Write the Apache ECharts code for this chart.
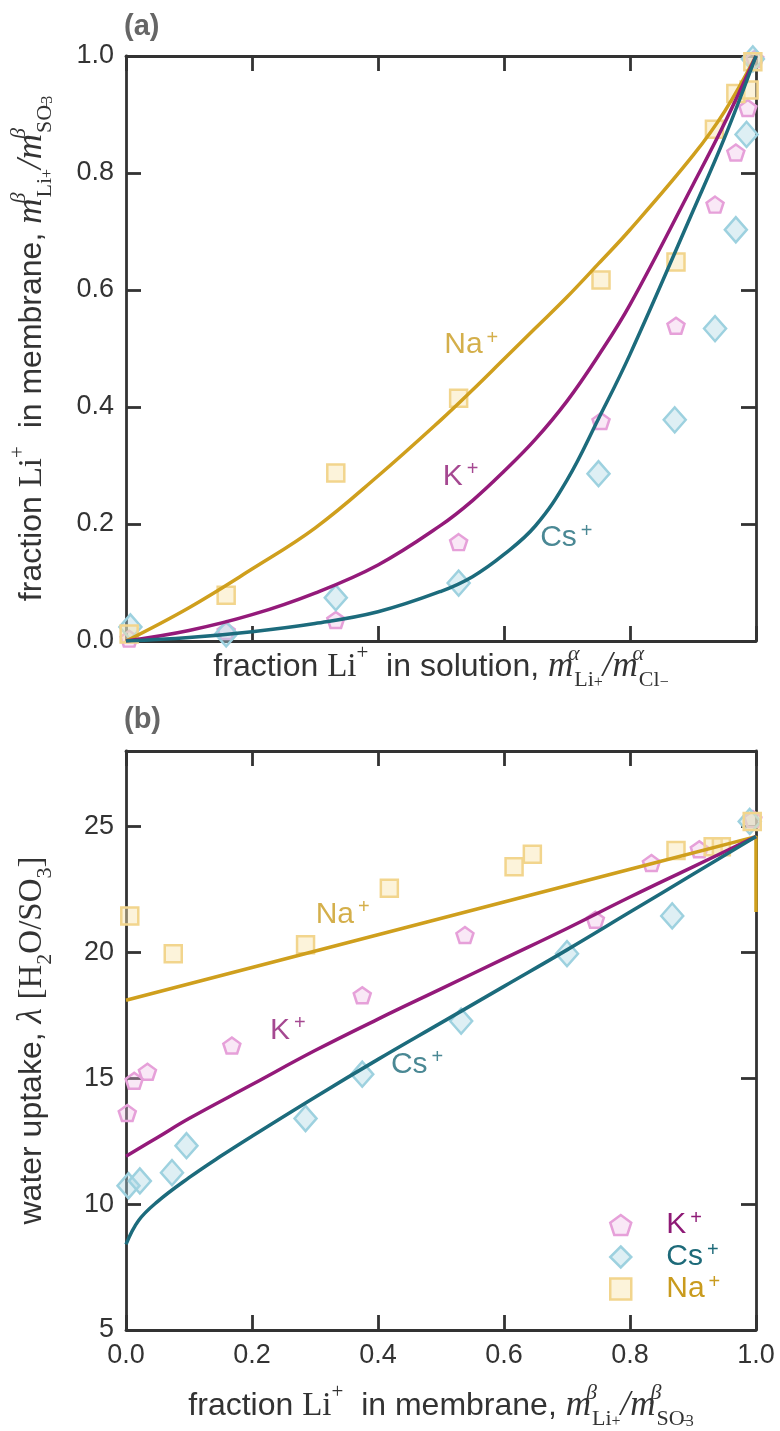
<!DOCTYPE html>
<html>
<head>
<meta charset="utf-8">
<script src="https://cdn.jsdelivr.net/npm/echarts@6/dist/echarts.min.js"></script>
<style>
html,body{margin:0;padding:0;background:#ffffff;}
#c{width:780px;height:1431px;}
</style>
</head>
<body>
<div id="c"></div>
<script>
// ================= DATA =================
// Panel (a): fraction Li+ in solution (x) vs fraction Li+ in membrane (y)
const naSolA = [0.005, 0.159, 0.333, 0.528, 0.754, 0.873, 0.934, 0.968, 0.989, 0.995];
const naMemA = [0.012, 0.078, 0.287, 0.415, 0.617, 0.648, 0.875, 0.936, 0.942, 0.990];
const kSolA  = [0.005, 0.159, 0.333, 0.528, 0.754, 0.873, 0.935, 0.968, 0.987, 0.998];
const kMemA  = [0.004, 0.017, 0.036, 0.169, 0.376, 0.539, 0.746, 0.835, 0.911, 0.995];
const csSolA = [0.007, 0.159, 0.333, 0.528, 0.750, 0.871, 0.935, 0.968, 0.985, 0.995];
const csMemA = [0.024, 0.012, 0.074, 0.099, 0.286, 0.378, 0.534, 0.703, 0.866, 0.995];
// model curves, panel (a)
const curveXA  = [0, 0.1, 0.2, 0.3, 0.4, 0.5, 0.55, 0.6, 0.65, 0.7, 0.75, 0.8, 0.9, 0.95, 1.0];
const naCurveA = [0, 0.057, 0.123, 0.193, 0.282, 0.378, 0.429, 0.482, 0.535, 0.588, 0.645, 0.703, 0.830, 0.905, 1.0];
const kCurveA  = [0, 0.018, 0.045, 0.082, 0.130, 0.198, 0.240, 0.290, 0.345, 0.410, 0.488, 0.575, 0.780, 0.885, 1.0];
const csCurveA = [0, 0.006, 0.016, 0.030, 0.050, 0.085, 0.110, 0.148, 0.197, 0.275, 0.380, 0.490, 0.735, 0.860, 1.0];

// Panel (b): fraction Li+ in membrane (x) vs water uptake lambda (y)
const naMemB = [0.006, 0.075, 0.285, 0.418, 0.616, 0.645, 0.873, 0.932, 0.945, 0.994];
const naLamB = [21.45, 19.95, 20.30, 22.55, 23.40, 23.90, 24.05, 24.20, 24.20, 25.20];
const kMemB  = [0.002, 0.013, 0.034, 0.168, 0.375, 0.538, 0.745, 0.834, 0.910, 0.995];
const kLamB  = [13.62, 14.90, 15.26, 16.30, 18.30, 20.69, 21.30, 23.55, 24.10, 25.30];
const csMemB = [0.004, 0.022, 0.073, 0.096, 0.285, 0.375, 0.532, 0.700, 0.867, 0.990];
const csLamB = [10.73, 10.92, 11.25, 12.32, 13.40, 15.16, 17.27, 19.95, 21.45, 25.20];
// model curves, panel (b)
const kCurveXB = [0, 0.05, 0.1, 0.2, 0.3, 0.4, 0.5, 0.6, 0.7, 0.8, 0.9, 1.0];
const kCurveB  = [11.9, 12.65, 13.4, 14.75, 16.1, 17.35, 18.55, 19.75, 20.95, 22.2, 23.4, 24.6];
const csCurveXB = [0, 0.02, 0.05, 0.1, 0.15, 0.2, 0.3, 0.4, 0.5, 0.6, 0.7, 0.8, 0.9, 1.0];
const csCurveB  = [8.4, 9.35, 10.1, 11.05, 11.9, 12.7, 14.25, 15.75, 17.2, 18.65, 20.1, 21.6, 23.1, 24.6];
const naCurveXB = [0, 0.2, 0.4, 0.6, 0.8, 1.0, 1.0];
const naCurveB  = [18.1, 19.4, 20.7, 22.0, 23.3, 24.6, 21.6];

// tick labels / categories
const ions = ['K+', 'Cs+', 'Na+'];
const yTicksA = [0, 0.2, 0.4, 0.6, 0.8, 1.0];
const xTicksB = [0, 0.2, 0.4, 0.6, 0.8, 1.0];
const yTicksB = [5, 10, 15, 20, 25];

// ================= STYLE / LAYOUT =================
const FONT = '"Liberation Sans", Arial, sans-serif';
const SERIF = '"Liberation Serif", "Times New Roman", serif';
const AX = '#333333';
const C = {
  naLine: '#CF9F1D', kLine: '#941A7A', csLine: '#1C6B7C',
  naText: '#C99B1E', kText: '#8E1A76', csText: '#1D6A79'
};
const MK = {
  'K+':  {symbol: 'path://M0,-1 L0.951,-0.309 L0.588,0.809 L-0.588,0.809 L-0.951,-0.309 Z', size: [17, 16],
          color: 'rgba(238,190,228,0.35)', border: '#E6A0D9'},
  'Cs+': {symbol: 'diamond', size: [22, 25], color: 'rgba(172,216,228,0.40)', border: '#9DD1DF'},
  'Na+': {symbol: 'rect', size: [17, 17], color: 'rgba(248,228,172,0.45)', border: '#F2D58D'}
};
const GA = {left: 125, right: 24, top: 56, height: 585};
const GB = {left: 125, right: 24, top: 751, height: 579};
const LABEL_POS_A = {'Na+': [0.548, 0.506], 'K+': [0.531, 0.281], 'Cs+': [0.699, 0.176]};
const LABEL_POS_B = {'Na+': [0.344, 21.5], 'K+': [0.257, 16.9], 'Cs+': [0.462, 15.55]};

const rich = {
  s:    {fontFamily: SERIF, fontSize: 33, color: AX},
  m:    {fontFamily: SERIF, fontStyle: 'italic', fontSize: 35, color: AX},
  p:    {fontFamily: SERIF, fontSize: 21, verticalAlign: 'top', lineHeight: 24, color: AX},
  su:   {fontFamily: SERIF, fontStyle: 'italic', fontSize: 22, verticalAlign: 'top', lineHeight: 22, width: 1, color: AX},
  sb:   {fontFamily: SERIF, fontSize: 22, verticalAlign: 'bottom', lineHeight: 22, color: AX},
  sbp:  {fontFamily: SERIF, fontSize: 16, verticalAlign: 'bottom', lineHeight: 38, color: AX},
  sbpw: {fontFamily: SERIF, fontSize: 17, verticalAlign: 'bottom', lineHeight: 42, width: 1, color: AX},
  sbb:  {fontFamily: SERIF, fontSize: 16, verticalAlign: 'bottom', lineHeight: 10, color: AX},
  sbn:  {fontFamily: SERIF, fontSize: 22, verticalAlign: 'bottom', lineHeight: 28, color: AX}
};
const nameStyle = {fontFamily: FONT, fontSize: 32, color: AX, lineHeight: 48, rich: rich};

const xNameA = 'fraction {s|Li}{p|+}  in solution, {m|m}{su|α}{sb|Li}{sbp|+}{m|/m}{su|α}{sb|Cl}{sbp|−}';
const yNameA = 'fraction {s|Li}{p|+}  in membrane, {m|m}{su|β}{sb|Li}{sbp|+}{m|/m}{su|β}{sb|SO}{sbpw|−}{sbb|3}';
const xNameB = 'fraction {s|Li}{p|+}  in membrane, {m|m}{su|β}{sb|Li}{sbp|+}{m|/m}{su|β}{sb|SO}{sbpw|−}{sbb|3}';
const yNameB = 'water uptake, {m|λ} {s|[H}{sbn|2}{s|O/SO}{sbn|3}{s|]}';

function axisCommon(extra) {
  return Object.assign({
    type: 'value',
    axisLine: {show: true, onZero: false, lineStyle: {color: AX, width: 2.8}},
    axisTick: {show: true, inside: true, length: 15, lineStyle: {color: AX, width: 2.8}},
    splitLine: {show: false},
    axisLabel: {show: false}
  }, extra);
}
const tickLabel = {show: true, fontFamily: FONT, fontSize: 27, color: AX, margin: 12};

function zip(a, b) { return a.map((v, i) => [v, b[i]]); }

function curve(name, xs, ys, color, xi, smooth) {
  return {
    name: name, type: 'line', xAxisIndex: xi, yAxisIndex: xi,
    data: zip(xs, ys), showSymbol: false, symbol: 'none',
    smooth: smooth,
    lineStyle: {color: color, width: 3.5}, z: 5, silent: true
  };
}
function pts(ion, xs, ys, xi) {
  const m = MK[ion];
  return {
    name: ion, type: 'scatter', xAxisIndex: xi, yAxisIndex: xi,
    data: zip(xs, ys), symbol: m.symbol, symbolSize: m.size, clip: false,
    itemStyle: {color: m.color, borderColor: m.border, borderWidth: 2.5, opacity: 1},
    z: 3, silent: true
  };
}
const ionText = {'Na+': ['Na', C.naText], 'K+': ['K', C.kText], 'Cs+': ['Cs', C.csText]};
const labRich = {};
Object.keys(ionText).forEach(k => {
  const key = k.replace('+', '');
  labRich[key] = {fontFamily: FONT, fontSize: 30, color: ionText[k][1], lineHeight: 34};
  labRich[key + 'p'] = {fontFamily: FONT, fontSize: 20, color: ionText[k][1], verticalAlign: 'top', lineHeight: 22, padding: [0, 0, 0, 4]};
});
function ionRich(ion) { const key = ion.replace('+', ''); return '{' + key + '|' + ionText[ion][0] + '}{' + key + 'p|+}'; }
function labels(pos, xi) {
  return {
    name: 'labels' + xi, type: 'scatter', xAxisIndex: xi, yAxisIndex: xi, symbolSize: 0, silent: true, z: 6,
    data: Object.keys(pos).map(k => ({value: pos[k], ion: k})),
    label: {show: true, position: 'inside', formatter: p => ionRich(p.data.ion), rich: labRich}
  };
}

const option = {
  backgroundColor: '#ffffff',
  animation: false,
  grid: [GA, GB],
  xAxis: [
    axisCommon({gridIndex: 0, min: 0, max: 1, interval: 0.2, position: 'bottom',
      name: xNameA, nameLocation: 'middle', nameGap: 2, nameTextStyle: nameStyle}),
    axisCommon({gridIndex: 0, min: 0, max: 1, interval: 0.2, position: 'top'}),
    axisCommon({gridIndex: 1, min: 0, max: 1, interval: 0.2, position: 'bottom',
      axisLabel: Object.assign({}, tickLabel, {formatter: v => xTicksB.indexOf(v) >= 0 ? v.toFixed(1) : ''}),
      name: xNameB, nameLocation: 'middle', nameGap: 52, nameTextStyle: nameStyle}),
    axisCommon({gridIndex: 1, min: 0, max: 1, interval: 0.2, position: 'top'})
  ],
  yAxis: [
    axisCommon({gridIndex: 0, min: 0, max: 1, interval: 0.2, position: 'left',
      axisLabel: Object.assign({}, tickLabel, {formatter: v => yTicksA.indexOf(v) >= 0 ? v.toFixed(1) : ''}),
      name: yNameA, nameLocation: 'middle', nameRotate: 90, nameGap: 70, nameTextStyle: nameStyle}),
    axisCommon({gridIndex: 0, min: 0, max: 1, interval: 0.2, position: 'right'}),
    axisCommon({gridIndex: 1, min: 5, max: 28, interval: 5, position: 'left',
      axisLabel: Object.assign({}, tickLabel, {showMaxLabel: false, formatter: v => yTicksB.indexOf(v) >= 0 ? String(v) : ''}),
      name: yNameB, nameLocation: 'middle', nameRotate: 90, nameGap: 70, nameTextStyle: nameStyle}),
    axisCommon({gridIndex: 1, min: 5, max: 28, interval: 5, position: 'right'})
  ],
  legend: {
    orient: 'vertical', left: 604, top: 1203, itemWidth: 21, itemHeight: 21, itemGap: 0,
    selectedMode: false,
    data: ions.map(ion => ({
      name: ion, icon: MK[ion].symbol,
      itemStyle: {color: MK[ion].color, borderColor: MK[ion].border, borderWidth: 2.5}
    })),
    formatter: name => ionRich(name),
    textStyle: {padding: [0, 0, 0, 30], rich: labRich}
  },
  graphic: [
    {type: 'text', left: 124, top: 12, style: {text: '(a)', font: 'bold 29px ' + FONT, fill: '#666666'}},
    {type: 'text', left: 124, top: 705, style: {text: '(b)', font: 'bold 29px ' + FONT, fill: '#666666'}}
  ],
  series: [
    pts('K+', kSolA, kMemA, 0),
    pts('Cs+', csSolA, csMemA, 0),
    pts('Na+', naSolA, naMemA, 0),
    curve('Na+ model', curveXA, naCurveA, C.naLine, 0, 0.4),
    curve('K+ model', curveXA, kCurveA, C.kLine, 0, 0.4),
    curve('Cs+ model', curveXA, csCurveA, C.csLine, 0, 0.4),
    labels(LABEL_POS_A, 0),
    pts('K+', kMemB, kLamB, 2),
    pts('Cs+', csMemB, csLamB, 2),
    pts('Na+', naMemB, naLamB, 2),
    curve('Na+ model', naCurveXB, naCurveB, C.naLine, 2, false),
    curve('K+ model', kCurveXB, kCurveB, C.kLine, 2, 0.4),
    curve('Cs+ model', csCurveXB, csCurveB, C.csLine, 2, 0.4),
    labels(LABEL_POS_B, 2)
  ]
};
const chart = echarts.init(document.getElementById('c'));
chart.setOption(option);
</script>
</body>
</html>
